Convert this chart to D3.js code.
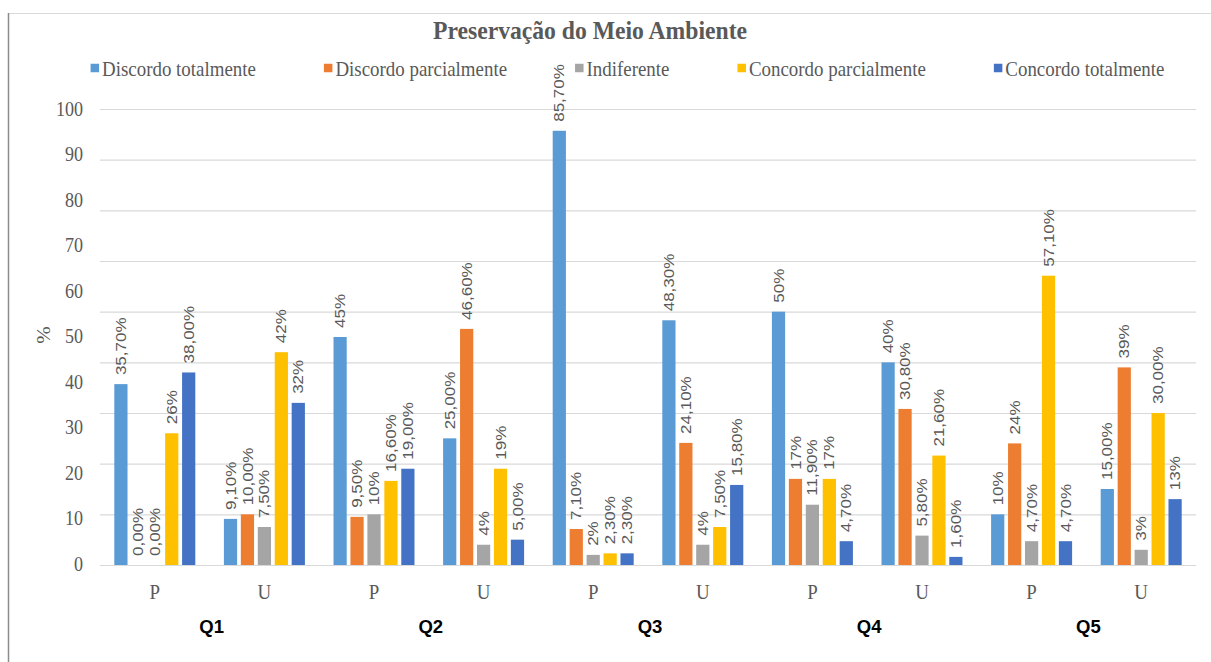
<!DOCTYPE html>
<html>
<head>
<meta charset="utf-8">
<script src="https://cdn.jsdelivr.net/npm/d3@7"></script>
<style>
  html, body { margin: 0; padding: 0; background: #fff; }
  svg { display: block; }
</style>
</head>
<body>
<svg id="chart" width="1211" height="662"></svg>
<script>
// ---- data ----
const questions = ["Q1", "Q2", "Q3", "Q4", "Q5"];
const groups = ["P", "U"];
const seriesNames = ["Discordo totalmente", "Discordo parcialmente", "Indiferente", "Concordo parcialmente", "Concordo totalmente"];
const seriesColors = ["#5B9BD5", "#ED7D31", "#A5A5A5", "#FFC000", "#4472C4"];

// values per bar, in order Q1-P, Q1-U, Q2-P, Q2-U, ... Q5-U
const discordoTotalmente    = [35.7, 9.1, 45, 25, 85.7, 48.3, 50, 40, 10, 15];
const discordoParcialmente  = [0, 10, 9.5, 46.6, 7.1, 24.1, 17, 30.8, 24, 39];
const indiferente           = [0, 7.5, 10, 4, 2, 4, 11.9, 5.8, 4.7, 3];
const concordoParcialmente  = [26, 42, 16.6, 19, 2.3, 7.5, 17, 21.6, 57.1, 30];
const concordoTotalmente    = [38, 32, 19, 5, 2.3, 15.8, 4.7, 1.6, 4.7, 13];

// data label text, as printed above each bar
const labelsDiscordoTotalmente   = ["35,70%", "9,10%", "45%", "25,00%", "85,70%", "48,30%", "50%", "40%", "10%", "15,00%"];
const labelsDiscordoParcialmente = ["0,00%", "10,00%", "9,50%", "46,60%", "7,10%", "24,10%", "17%", "30,80%", "24%", "39%"];
const labelsIndiferente          = ["0,00%", "7,50%", "10%", "4%", "2%", "4%", "11,90%", "5,80%", "4,70%", "3%"];
const labelsConcordoParcialmente = ["26%", "42%", "16,60%", "19%", "2,30%", "7,50%", "17%", "21,60%", "57,10%", "30,00%"];
const labelsConcordoTotalmente   = ["38,00%", "32%", "19,00%", "5,00%", "2,30%", "15,80%", "4,70%", "1,60%", "4,70%", "13%"];

const yTickLabels = ["0", "10", "20", "30", "40", "50", "60", "70", "80", "90", "100"];

// ---- assemble ----
const seriesValues = [discordoTotalmente, discordoParcialmente, indiferente, concordoParcialmente, concordoTotalmente];
const seriesLabels = [labelsDiscordoTotalmente, labelsDiscordoParcialmente, labelsIndiferente, labelsConcordoParcialmente, labelsConcordoTotalmente];
const slots = [];
questions.forEach(q => groups.forEach(g => slots.push(q + "-" + g)));
const bars = [];
slots.forEach((slot, i) => {
  seriesNames.forEach((s, j) => {
    bars.push({ slot, series: s, color: seriesColors[j], value: seriesValues[j][i], label: seriesLabels[j][i] });
  });
});

// ---- layout ----
const svg = d3.select("#chart");
const W = 1211, H = 662;
const plot = { left: 100, right: 1196, top: 109, bottom: 565 };
const serif = "'Liberation Serif', 'Times New Roman', serif";
const sans = "'Liberation Sans', Arial, sans-serif";
const textGray = "#595959";
const SX = 0.86; // horizontal squeeze used for text

function place(sel, x, y, sx, extra) {
  return sel.attr("transform", `translate(${x},${y}) scale(${sx},1)` + (extra ? " " + extra : ""));
}

svg.append("rect").attr("width", W).attr("height", H).attr("fill", "#fff");

// frame
svg.append("line").attr("x1", 8).attr("x2", W).attr("y1", 13.5).attr("y2", 13.5)
  .attr("stroke", "#d9d9d9").attr("stroke-width", 1.2);
svg.append("line").attr("x1", 8.5).attr("x2", 8.5).attr("y1", 13).attr("y2", H)
  .attr("stroke", "#8c8c8c").attr("stroke-width", 1.5);

// scales
const x0 = d3.scaleBand().domain(slots).range([plot.left, plot.right])
  .paddingInner(0.261).paddingOuter(0.1305);
const x1 = d3.scaleBand().domain(seriesNames).range([0, x0.bandwidth()]).paddingInner(0.22);
const y = d3.scaleLinear().domain([0, 90]).range([plot.bottom, plot.top]);

// gridlines
const grid = svg.append("g").attr("transform", `translate(${plot.left},0)`)
  .call(d3.axisLeft(y).tickValues(d3.range(0, 91, 10)).tickSize(-(plot.right - plot.left)).tickFormat(""));
grid.select(".domain").remove();
grid.selectAll(".tick line").attr("stroke", "#d9d9d9").attr("stroke-width", 1.2);

// y tick labels
const yLab = d3.scalePoint().domain(yTickLabels).range([plot.bottom - 1, plot.top]);
svg.append("g").selectAll("text").data(yTickLabels).join("text")
  .each(function (d) { place(d3.select(this), 83, yLab(d), SX); })
  .attr("text-anchor", "end").attr("dominant-baseline", "central")
  .attr("font-family", serif).attr("font-size", 21).attr("fill", textGray)
  .text(d => d);

// y title
svg.append("text")
  .attr("transform", `translate(44,335) scale(${SX},1) rotate(-90)`)
  .attr("text-anchor", "middle").attr("dominant-baseline", "central")
  .attr("font-family", serif).attr("font-size", 21).attr("fill", textGray)
  .text("%");

// bars
svg.append("g").selectAll("rect").data(bars).join("rect")
  .attr("x", d => x0(d.slot) + x1(d.series))
  .attr("y", d => y(d.value))
  .attr("width", x1.bandwidth())
  .attr("height", d => y(0) - y(d.value))
  .attr("fill", d => d.color);

// data labels
svg.append("g").selectAll("text").data(bars).join("text")
  .attr("transform", d => `translate(${x0(d.slot) + x1(d.series) + x1.bandwidth() / 2},${y(d.value) - 9}) scale(${SX},1) rotate(-90)`)
  .attr("text-anchor", "start").attr("dominant-baseline", "central")
  .attr("font-family", sans).attr("font-size", 17).attr("fill", textGray)
  .text(d => d.label);

// x category labels (P / U)
svg.append("g").selectAll("text").data(slots).join("text")
  .each(function (d) { place(d3.select(this), x0(d) + x0.bandwidth() / 2, 591, SX); })
  .attr("text-anchor", "middle").attr("dominant-baseline", "central")
  .attr("font-family", serif).attr("font-size", 22).attr("fill", textGray)
  .text(d => d.split("-")[1]);

// question labels
svg.append("g").selectAll("text").data(questions).join("text")
  .attr("x", q => (x0(q + "-P") + x0(q + "-U") + x0.bandwidth()) / 2 + 2)
  .attr("y", 626)
  .attr("text-anchor", "middle").attr("dominant-baseline", "central")
  .attr("font-family", sans).attr("font-weight", "bold").attr("font-size", 18.5).attr("fill", "#000")
  .text(q => q);

// title
place(svg.append("text"), 590, 39, 0.91)
  .attr("text-anchor", "middle")
  .attr("font-family", serif).attr("font-weight", "bold").attr("font-size", 26).attr("fill", textGray)
  .text("Preservação do Meio Ambiente");

// legend
const legend = svg.append("g");
const sw = 8.5, textGap = 3, itemGap = 68;
let cursor = 0;
seriesNames.forEach((name, i) => {
  const g = legend.append("g");
  g.append("rect").attr("x", cursor).attr("y", -sw / 2).attr("width", sw).attr("height", sw).attr("fill", seriesColors[i]);
  const t = place(g.append("text"), cursor + sw + textGap, 0, SX)
    .attr("dominant-baseline", "central")
    .attr("font-family", serif).attr("font-size", 22).attr("fill", textGray)
    .text(name);
  const w = t.node().getComputedTextLength() * SX;
  cursor += sw + textGap + w + itemGap;
});
const legendWidth = cursor - itemGap;
legend.attr("transform", `translate(${627.5 - legendWidth / 2},68)`);
</script>
</body>
</html>
